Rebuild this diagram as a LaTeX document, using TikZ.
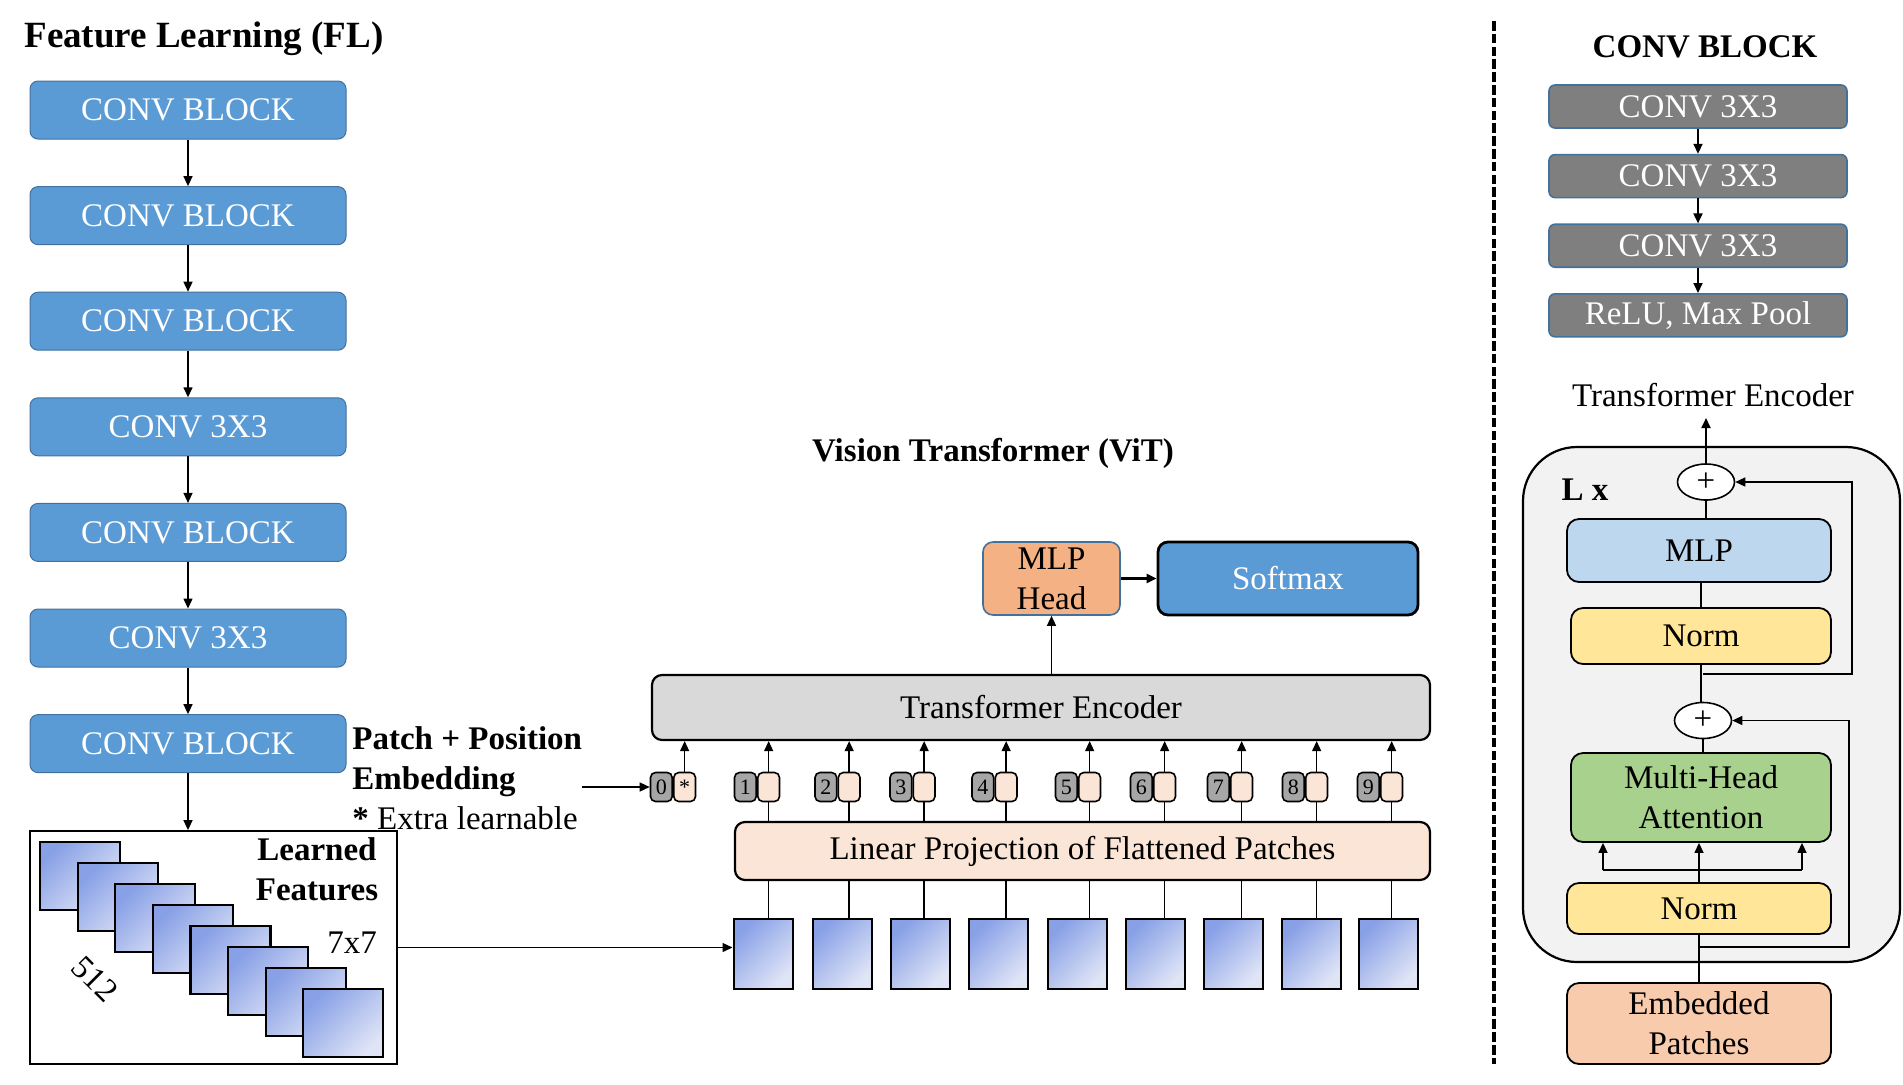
\documentclass[tikz,border=0pt]{standalone}
\usepackage{fontspec}
\setmainfont{Liberation Serif}
\usetikzlibrary{positioning,arrows.meta,shapes.geometric}

\definecolor{convblue}{HTML}{5B9BD5}
\definecolor{convedge}{HTML}{41719C}
\definecolor{convgray}{HTML}{7F7F7F}
\definecolor{headorange}{HTML}{F4B183}
\definecolor{encgray}{HTML}{D9D9D9}
\definecolor{projpeach}{HTML}{FBE5D6}
\definecolor{tokgrey}{HTML}{A6A6A6}
\definecolor{featdark}{RGB}{136,160,230}
\definecolor{featlight}{RGB}{224,229,246}
\definecolor{encback}{HTML}{F2F2F2}
\definecolor{mlpblue}{HTML}{BDD7EE}
\definecolor{normyellow}{HTML}{FFE699}
\definecolor{attgreen}{HTML}{A9D18E}
\definecolor{embpeach}{HTML}{F8CBAD}

\newcommand{\txt}{\fontsize{16.5}{20}\selectfont}
\newcommand{\bigtxt}{\fontsize{18.5}{22}\selectfont\bfseries}
\newcommand{\toktxt}{\fontsize{11}{12}\selectfont}

\tikzset{
  convbox/.style={rectangle, rounded corners=4pt, fill=convblue, draw=convedge, line width=0.5pt,
    text=white, minimum width=158pt, minimum height=29pt, font=\txt},
  graybox/.style={rectangle, rounded corners=3pt, fill=convgray, draw=convedge, line width=0.8pt,
    text=white, minimum width=149pt, minimum height=21.5pt, inner sep=0pt, font=\txt},
  featfill/.style={top color=featdark, bottom color=featlight, shading angle=45},
  patchbox/.style={rectangle, featfill, draw=black, line width=1pt, minimum width=29.5pt, minimum height=35pt, inner sep=0pt},
  tokL/.style={rectangle, rounded corners=2.5pt, fill=tokgrey, draw=black, line width=0.8pt,
    minimum width=10.85pt, minimum height=14.5pt, inner sep=0pt, font=\toktxt},
  tokR/.style={tokL, fill=projpeach},
  vitbox/.style={rectangle, rounded corners=5pt, draw=black, line width=1.1pt, font=\txt, inner sep=0pt},
  encpart/.style={rectangle, rounded corners=6pt, draw=black, line width=0.9pt, font=\txt, align=center,
    minimum width=131pt, inner sep=0pt},
  plusnode/.style={ellipse, fill=white, draw=black, line width=0.8pt, minimum width=28.5pt, minimum height=18pt,
    inner sep=0pt, font=\txt},
  conn/.style={line width=0.7pt},
  >={Triangle[length=5pt,width=4.5pt]}
}

\newcommand{\tokpair}[4]{
\node [tokL, anchor=east] (#1-g) at (#2) {#3};
\node [tokR, anchor=west] (#1-p) at (#2) {#4};
}

\begin{document}
\begin{tikzpicture}[x=0.5pt, y=-0.5pt, node distance=23.3pt]

\useasboundingbox (0,0) rectangle (1903,1084);

\node [anchor=west, inner sep=0pt, font=\bigtxt] (fltitle) at (24,39) {Feature Learning (FL)};

\node [convbox] (c1) at (188,110) {CONV BLOCK};
\node [convbox, below=of c1] (c2) {CONV BLOCK};
\node [convbox, below=of c2] (c3) {CONV BLOCK};
\node [convbox, below=of c3] (c4) {CONV 3X3};
\node [convbox, below=of c4] (c5) {CONV BLOCK};
\node [convbox, below=of c5] (c6) {CONV 3X3};
\node [convbox, below=of c6] (c7) {CONV BLOCK};

\foreach \a/\b in {c1/c2,c2/c3,c3/c4,c4/c5,c5/c6,c6/c7}
  \draw [conn, ->] (\a.south) -- (\b.north);

\node [rectangle, draw=black, line width=0.9pt, minimum width=183.5pt, minimum height=116.5pt, inner sep=0pt] (lf) at (213.5,947.5) {};
\draw [conn, ->] (c7.south) -- (c7.south |- lf.north);

\foreach \i in {0,...,7}
  \shadedraw [featfill, draw=black, line width=1.1pt] ({40+37.6*\i},{842+21*\i}) rectangle ++(80,68);

\node [align=center, font=\txt\bfseries, inner sep=0pt] (lftext) at (317,869) {Learned\\Features};
\node [font=\txt, inner sep=0pt] (lfsize) at (352,943) {7x7};
\node [font=\txt, inner sep=0pt, rotate=-45] (lfdepth) at (95,979) {512};

\node [anchor=west, align=left, font=\txt, inner sep=0pt] (pe) at (352,778)
  {\textbf{Patch + Position}\\\textbf{Embedding}\\\textbf{*} Extra learnable};

\node [font=\txt\bfseries, inner sep=0pt] (vittitle) at (993,453) {Vision Transformer (ViT)};

\node [vitbox, fill=headorange, draw=convedge, line width=0.8pt, align=center, minimum width=68.5pt, minimum height=36.5pt] (mh) at (1051.5,578.5) {MLP\\Head};
\node [vitbox, fill=convblue, text=white, line width=1.4pt, minimum width=130pt, minimum height=36.5pt] (sm) at (1288,578.5) {Softmax};
\draw [line width=1.4pt, ->] (mh.east) -- (sm.west);

\node [vitbox, fill=encgray, minimum width=389pt, minimum height=32.5pt] (te) at (1041,707.5) {Transformer Encoder};
\draw [conn, ->] (te.north -| mh.south) -- (mh.south);

\node [vitbox, fill=projpeach, minimum width=347.5pt, minimum height=29pt] (lp) at (1082.5,851) {Linear Projection of Flattened Patches};

\tokpair{tok0}{673,787}{0}{*}
\foreach \n/\x in {1/757,2/837.5,3/912.5,4/994.5,5/1078,6/1153,7/1230,8/1305,9/1380}
  \tokpair{tok\n}{\x,787}{\n}{};

\draw [conn, ->] (pe.east |- tok0-g.west) -- (tok0-g.west);

\foreach \n in {0,...,9}
  \draw [conn, ->] (tok\n-p.north) -- (tok\n-p.north |- te.south);

\foreach \n/\x in {1/763,2/842,3/920,4/998.5,5/1077.5,6/1155.5,7/1233,8/1311.5,9/1388}
  \node [patchbox] (p\n) at (\x,954) {};

\foreach \n in {1,...,9} {
  \draw [conn] (tok\n-p.south |- p\n.north) -- (tok\n-p.south |- lp.south);
  \draw [conn] (tok\n-p.south |- lp.north) -- (tok\n-p.south);
}

\draw [conn, ->] (lf.east) -- (lf.east -| p1.west);

\coordinate (sepTop) at (1494,21);
\coordinate (sepBot) at (1494,1064);
\draw [line width=1.7pt, dash pattern=on 4.8pt off 1.6pt] (sepTop) -- (sepBot);

\node [font=\txt\bfseries, inner sep=0pt] (cbtitle) at (1705,47) {CONV BLOCK};
\node [graybox] (g1) at (1698,106.5) {CONV 3X3};
\node [graybox, below=12.5pt of g1] (g2) {CONV 3X3};
\node [graybox, below=12.5pt of g2] (g3) {CONV 3X3};
\node [graybox, below=12.5pt of g3] (g4) {ReLU, Max Pool};
\foreach \a/\b in {g1/g2,g2/g3,g3/g4}
  \draw [conn, line width=0.9pt, ->] (\a.south) -- (\b.north);

\node [font=\txt, inner sep=0pt] (enctitle) at (1713,395) {Transformer Encoder};
\node [rectangle, rounded corners=27pt, fill=encback, draw=black, line width=1.1pt, minimum width=188.5pt, minimum height=257.5pt] (enc) at (1711.5,704.5) {};
\node [font=\txt\bfseries, inner sep=0pt] (reps) at (1585,490) {L x};

\node [plusnode] (pl1) at (1706,482) {+};
\node [encpart, fill=mlpblue, minimum width=132pt, minimum height=31.5pt] (mlp) at (1699,550.5) {MLP};
\node [encpart, fill=normyellow, minimum width=130pt, minimum height=28pt] (nm1) at (1701,636) {Norm};
\node [plusnode] (pl2) at (1703,720.5) {+};
\node [encpart, fill=attgreen, minimum width=130pt, minimum height=44.5pt] (mha) at (1701,797.5) {Multi-Head\\Attention};
\node [encpart, fill=normyellow, minimum width=132pt, minimum height=25.5pt] (nm2) at (1699,908.5) {Norm};
\node [encpart, fill=embpeach, minimum width=132pt, minimum height=40.5pt] (emb) at (1699,1023.5) {Embedded\\Patches};

\coordinate (encout) at (1706,418);
\coordinate (j1) at (1703,674);
\coordinate (r1) at (1852,674);
\coordinate (j2) at (1700,947);
\coordinate (r2) at (1849,947);
\coordinate (fl) at (1603,870);
\coordinate (fr) at (1802,870);

\draw [conn, line width=0.9pt, ->] (pl1.north) -- (encout);
\draw [conn] (pl1.south) -- (pl1.south |- mlp.north);
\draw [conn] (nm1.north) -- (nm1.north |- mlp.south);
\draw [conn] (nm1.south) -- (nm1.south |- pl2.north);
\draw [conn] (pl2.south) -- (pl2.south |- mha.north);
\draw [conn, ->] (nm2.north) -- (nm2.north |- mha.south);
\draw [conn] (fl) -- (fr);
\draw [conn, ->] (fl) -- (fl |- mha.south);
\draw [conn, ->] (fr) -- (fr |- mha.south);
\draw [conn] (emb.north) -- (emb.north |- nm2.south);
\draw [conn, ->] (j1) -- (r1) |- (pl1.east);
\draw [conn, ->] (j2) -- (r2) |- (pl2.east);

\end{tikzpicture}
\end{document}
